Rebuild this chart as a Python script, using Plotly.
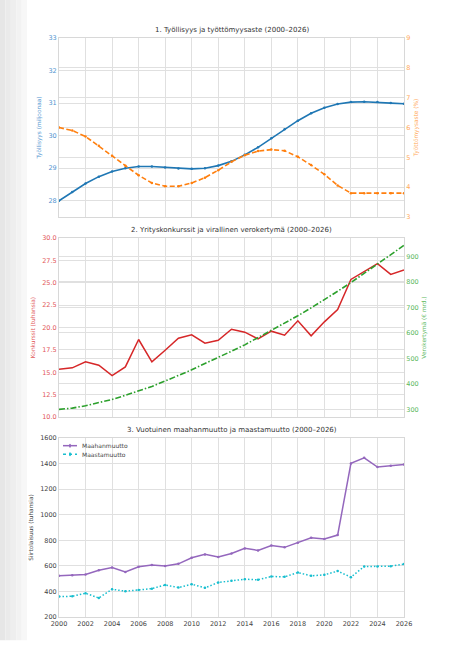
import plotly.graph_objects as go
from plotly.subplots import make_subplots

years = list(range(2000, 2027))

# 1. työllisyys (milj.) ja työttömyysaste (%)
employment = [28.00, 28.27, 28.53, 28.74, 28.90, 29.00, 29.05, 29.05, 29.02, 28.99,
              28.98, 29.00, 29.08, 29.21, 29.41, 29.64, 29.92, 30.20, 30.46, 30.69,
              30.86, 30.97, 31.03, 31.04, 31.03, 31.00, 30.98]
unemployment = [6.00, 5.90, 5.70, 5.39, 5.05, 4.72, 4.40, 4.14, 4.03, 4.03,
                4.14, 4.32, 4.57, 4.85, 5.07, 5.21, 5.26, 5.22, 5.02, 4.74,
                4.43, 4.06, 3.80, 3.80, 3.80, 3.80, 3.80]

# 2. konkurssit (tuhansia) ja verokertymä (mrd. €)
bankruptcies = [15.34, 15.49, 16.16, 15.78, 14.63, 15.60, 18.66, 16.16, 17.46, 18.80,
                19.18, 18.25, 18.58, 19.81, 19.48, 18.73, 19.59, 19.14, 20.75, 19.07,
                20.63, 22.01, 25.37, 26.23, 27.13, 25.93, 26.42]
tax_revenue = [300, 305, 314, 326, 339, 355, 372, 390, 411, 432,
               455, 480, 503, 528, 553, 581, 608, 637, 667, 698,
               729, 763, 797, 833, 868, 905, 943]

# 3. maahanmuutto ja maastamuutto (tuhansia)
immigration = [522, 527, 532, 566, 587, 553, 593, 606, 600, 616,
               663, 690, 669, 697, 737, 721, 760, 745, 781, 820,
               810, 841, 1402, 1446, 1373, 1383, 1394]
emigration = [360, 362, 386, 349, 417, 402, 412, 422, 451, 430,
              457, 428, 470, 483, 496, 491, 517, 514, 548, 522,
              530, 559, 512, 595, 595, 598, 614]

blue = "#1f77b4"
orange = "#ff7f0e"
red = "#d62728"
green = "#2ca02c"
purple = "#9467bd"
cyan = "#17becf"
grid = "#e0e0e0"
font = "DejaVu Sans"

fig = make_subplots(rows=3, cols=1, shared_xaxes=True,
                    specs=[[{"secondary_y": True}], [{"secondary_y": True}], [{}]])

fig.add_trace(go.Scatter(x=years, y=employment, mode="lines+markers", name="Työllisyys",
                         line=dict(color=blue, width=1.6), marker=dict(size=2.5, color=blue)),
              row=1, col=1, secondary_y=False)
fig.add_trace(go.Scatter(x=years, y=unemployment, mode="lines+markers", name="Työttömyysaste",
                         line=dict(color=orange, width=1.6, dash="5px,2.5px"),
                         marker=dict(size=2.5, color=orange)),
              row=1, col=1, secondary_y=True)

fig.add_trace(go.Scatter(x=years, y=bankruptcies, mode="lines", name="Konkurssit",
                         line=dict(color=red, width=1.5)),
              row=2, col=1, secondary_y=False)
fig.add_trace(go.Scatter(x=years, y=tax_revenue, mode="lines", name="Verokertymä",
                         line=dict(color=green, width=1.6, dash="6px,2px,1.5px,2px")),
              row=2, col=1, secondary_y=True)

fig.add_trace(go.Scatter(x=years, y=immigration, mode="lines+markers", name="Maahanmuutto",
                         line=dict(color=purple, width=1.5), marker=dict(size=2.5, color=purple)),
              row=3, col=1)
fig.add_trace(go.Scatter(x=years, y=emigration, mode="lines+markers", name="Maastamuutto",
                         line=dict(color=cyan, width=1.5, dash="1.5px,2px"),
                         marker=dict(size=2.5, color=cyan)), row=3, col=1)

axis_common = dict(showgrid=True, gridcolor=grid, gridwidth=0.8, zeroline=False,
                   showline=True, linecolor="#d8d8d8", linewidth=1, ticks="")

xcommon = dict(axis_common, range=[2000, 2026], dtick=2, tick0=2000, mirror=True)
fig.update_layout(
    xaxis=dict(xcommon, domain=[0, 1], showticklabels=False),
    xaxis2=dict(xcommon, domain=[0, 1], showticklabels=False),
    xaxis3=dict(xcommon, domain=[0, 1], tickfont=dict(size=6.5, color="#444")),
    yaxis=dict(axis_common, domain=[0.6908, 1], range=[27.5, 33], dtick=1,
               tickfont=dict(size=6.5, color="#4f93cf"),
               title=dict(text="Työllisyys (miljoonaa)", font=dict(size=5.8, color="#4f93cf"),
                          standoff=6)),
    yaxis2=dict(axis_common, range=[3, 9], dtick=1,
                tickfont=dict(size=6.5, color="#ffa95a"),
                title=dict(text="Työttömyysaste (%)", font=dict(size=5.8, color="#ffa95a"),
                           standoff=4)),
    yaxis3=dict(axis_common, domain=[0.3454, 0.6546], range=[10, 30], dtick=2.5,
                tickformat=".1f", tickfont=dict(size=6.5, color="#e2585a"),
                title=dict(text="Konkurssit (tuhansia)", font=dict(size=5.8, color="#e2585a"),
                           standoff=6)),
    yaxis4=dict(axis_common, range=[270, 972], tick0=300, dtick=100,
                tickfont=dict(size=6.5, color="#5cb85c"),
                title=dict(text="Verokertymä (€ mrd.)", font=dict(size=5.8, color="#5cb85c"),
                           standoff=4)),
    yaxis5=dict(axis_common, domain=[0, 0.309], range=[200, 1600], dtick=200, mirror=True,
                tickfont=dict(size=6.5, color="#444"),
                title=dict(text="Siirtolaisuus (tuhansia)", font=dict(size=5.8, color="#444"),
                           standoff=6)),
)

titles = [
    ("1. Työllisyys ja työttömyysaste (2000–2026)", 1.0),
    ("2. Yrityskonkurssit ja virallinen verokertymä (2000–2026)", 0.6546),
    ("3. Vuotuinen maahanmuutto ja maastamuutto (2000–2026)", 0.309),
]
for text, ytop in titles:
    fig.add_annotation(text=text, x=0.5, y=ytop, xref="paper", yref="paper",
                       xanchor="center", yanchor="bottom", yshift=2, showarrow=False,
                       font=dict(size=7, color="#333"))

# compact legend in the top-left corner of panel 3 (matplotlib style)
legend_items = [("Maahanmuutto", purple, "solid", 0.2959),
                ("Maastamuutto", cyan, "dot", 0.2810)]
for name, color, dash, ly in legend_items:
    fig.add_shape(type="line", xref="paper", yref="paper", x0=0.0116, x1=0.0522,
                  y0=ly, y1=ly, line=dict(color=color, width=1.5, dash=dash))
    fig.add_shape(type="circle", xref="paper", yref="paper",
                  x0=0.0290, x1=0.0348, y0=ly - 0.0034, y1=ly + 0.0034,
                  fillcolor=color, line_width=0)
    fig.add_annotation(text=name, x=0.0609, y=ly, xref="paper", yref="paper",
                       xanchor="left", yanchor="middle", showarrow=False,
                       font=dict(size=6, color="#444"))

# page shadow on the left edge
shades = ["#e6e6e6", "#eaeaea", "#eeeeee", "#f2f2f2", "#f7f7f7"]
for i, c in enumerate(shades):
    fig.add_shape(type="rect", xref="paper", yref="paper",
                  x0=-0.171 + i * 0.0157, x1=-0.171 + (i + 1) * 0.0157,
                  y0=-0.04, y1=1.066, fillcolor=c, line_width=0, layer="below")

fig.update_layout(
    width=450, height=672,
    margin=dict(l=59, r=46, t=38, b=55),
    paper_bgcolor="white", plot_bgcolor="white",
    font=dict(family=font, size=6.5, color="#333"),
    showlegend=False,
)

fig.write_html("out.html", config={"displayModeBar": False},
               post_script="document.body.style.margin='0';")
